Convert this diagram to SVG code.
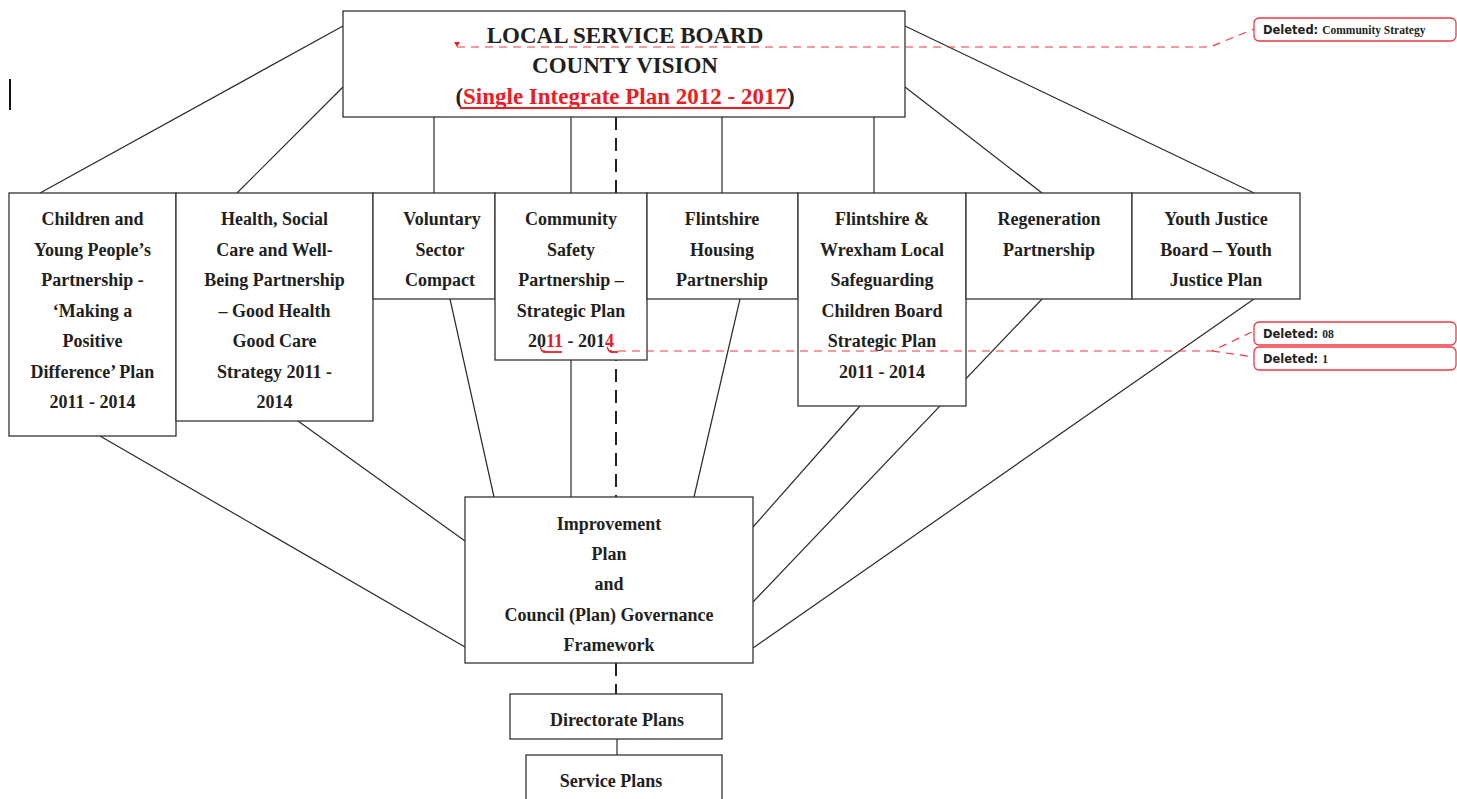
<svg xmlns="http://www.w3.org/2000/svg" width="1457" height="799" viewBox="0 0 1457 799">
<style>
.box{fill:#fff;stroke:#333;stroke-width:1.3}
.ln{stroke:#2a2a2a;stroke-width:1.2;fill:none}
.dash{stroke:#222;stroke-width:2;stroke-dasharray:13 8;fill:none}
.t{font-family:"Liberation Serif","Times New Roman",serif;font-weight:bold;font-size:18px;fill:#231f20;text-anchor:middle}
.title{font-size:23px}
.red{fill:#ed1c24}
.rd{stroke:#ee3a43;stroke-width:1.2;stroke-dasharray:8 6;fill:none}
.bal{fill:#fff;stroke:#ee3a43;stroke-width:1.3}
.bt{font-family:"DejaVu Sans",Verdana,sans-serif;font-weight:bold;font-size:11.5px;fill:#231f20}
.bs{font-family:"Liberation Serif","Times New Roman",serif;font-weight:bold;font-size:11.5px;fill:#231f20}
</style>
<rect width="1457" height="799" fill="#fff"/>
<g id="connectors">
<line class="dash" x1="616" y1="117" x2="616" y2="694"/>
<line class="ln" x1="343" y1="26" x2="40" y2="193"/>
<line class="ln" x1="343" y1="87" x2="237" y2="193"/>
<line class="ln" x1="905" y1="26" x2="1254" y2="193"/>
<line class="ln" x1="905" y1="87" x2="1042" y2="193"/>
<line class="ln" x1="434" y1="117" x2="434" y2="193"/>
<line class="ln" x1="571" y1="117" x2="571" y2="193"/>
<line class="ln" x1="722" y1="117" x2="722" y2="193"/>
<line class="ln" x1="874" y1="117" x2="874" y2="193"/>
<line class="ln" x1="100" y1="436" x2="465" y2="647"/>
<line class="ln" x1="298" y1="421" x2="465" y2="541"/>
<line class="ln" x1="450" y1="299" x2="494" y2="497"/>
<line class="ln" x1="571" y1="360" x2="571" y2="497"/>
<line class="ln" x1="740" y1="299" x2="694" y2="497"/>
<line class="ln" x1="860" y1="406" x2="753" y2="527"/>
<line class="ln" x1="1042" y1="299" x2="753" y2="602"/>
<line class="ln" x1="1254" y1="299" x2="753" y2="648"/>
<line class="ln" x1="617" y1="739" x2="617" y2="755"/>
</g>
<g id="lsb">
<rect class="box" x="343" y="11" width="562" height="106"/>
<text class="t title" x="625" y="43">LOCAL SERVICE BOARD</text>
<text class="t title" x="625" y="73">COUNTY VISION</text>
<text class="t title" x="625" y="104">(<tspan class="red">Single Integrate Plan 2012 - 2017</tspan>)</text>
<line x1="460" y1="108" x2="790" y2="108" stroke="#ed1c24" stroke-width="2"/>
</g>
<g id="cyp">
<rect class="box" x="9" y="193" width="167" height="243"/>
<text class="t" x="92.5" y="225">Children and</text>
<text class="t" x="92.5" y="255.5">Young People’s</text>
<text class="t" x="92.5" y="286">Partnership -</text>
<text class="t" x="92.5" y="316.5">‘Making a</text>
<text class="t" x="92.5" y="347">Positive</text>
<text class="t" x="92.5" y="377.5">Difference’ Plan</text>
<text class="t" x="92.5" y="408">2011 - 2014</text>
</g>
<g id="health">
<rect class="box" x="176" y="193" width="197" height="228"/>
<text class="t" x="274.5" y="225">Health, Social</text>
<text class="t" x="274.5" y="255.5">Care and Well-</text>
<text class="t" x="274.5" y="286">Being Partnership</text>
<text class="t" x="274.5" y="316.5">– Good Health</text>
<text class="t" x="274.5" y="347">Good Care</text>
<text class="t" x="274.5" y="377.5">Strategy 2011 -</text>
<text class="t" x="274.5" y="408">2014</text>
</g>
<g id="voluntary">
<rect class="box" x="373" y="193" width="122" height="106"/>
<text class="t" x="442" y="225">Voluntary</text>
<text class="t" x="440" y="255.5">Sector</text>
<text class="t" x="440" y="286">Compact</text>
</g>
<g id="community">
<rect class="box" x="495" y="193" width="152" height="167"/>
<text class="t" x="571" y="225">Community</text>
<text class="t" x="571" y="255.5">Safety</text>
<text class="t" x="571" y="286">Partnership –</text>
<text class="t" x="571" y="316.5">Strategic Plan</text>
<text class="t" x="571" y="347">20<tspan class="red">11</tspan> - 201<tspan class="red">4</tspan></text>
<line x1="543" y1="352" x2="562" y2="352" stroke="#ed1c24" stroke-width="1.8"/>
<line x1="610" y1="352" x2="618" y2="352" stroke="#ed1c24" stroke-width="1.8"/>
</g>
<g id="housing">
<rect class="box" x="647" y="193" width="151" height="106"/>
<text class="t" x="722" y="225">Flintshire</text>
<text class="t" x="722" y="255.5">Housing</text>
<text class="t" x="722" y="286">Partnership</text>
</g>
<g id="safeguarding">
<rect class="box" x="798" y="193" width="168" height="213"/>
<text class="t" x="882" y="225">Flintshire &amp;</text>
<text class="t" x="882" y="255.5">Wrexham Local</text>
<text class="t" x="882" y="286">Safeguarding</text>
<text class="t" x="882" y="316.5">Children Board</text>
<text class="t" x="882" y="347">Strategic Plan</text>
<text class="t" x="882" y="377.5">2011 - 2014</text>
</g>
<g id="regeneration">
<rect class="box" x="966" y="193" width="166" height="106"/>
<text class="t" x="1049" y="225">Regeneration</text>
<text class="t" x="1049" y="255.5">Partnership</text>
</g>
<g id="youth">
<rect class="box" x="1132" y="193" width="168" height="106"/>
<text class="t" x="1216" y="225">Youth Justice</text>
<text class="t" x="1216" y="255.5">Board – Youth</text>
<text class="t" x="1216" y="286">Justice Plan</text>
</g>
<g id="improvement">
<rect class="box" x="465" y="497" width="288" height="166"/>
<text class="t" x="609" y="530">Improvement</text>
<text class="t" x="609" y="560">Plan</text>
<text class="t" x="609" y="590">and</text>
<text class="t" x="609" y="620.5">Council (Plan) Governance</text>
<text class="t" x="609" y="651">Framework</text>
</g>
<g id="directorate">
<rect class="box" x="510" y="694" width="212" height="45"/>
<text class="t" x="617" y="726">Directorate Plans</text>
</g>
<g id="service">
<rect class="box" x="526" y="755" width="196" height="50"/>
<text class="t" x="611" y="787">Service Plans</text>
</g>
<g id="annotations">
<line x1="10" y1="79" x2="10" y2="110" stroke="#111" stroke-width="2"/>
<polygon points="454,42 460,42 457,47" fill="#ed1c24"/>
<polyline class="rd" points="457,47 1210,47 1254,29"/>
<rect class="bal" x="1254" y="18" width="202" height="23" rx="5"/>
<text x="1263" y="34"><tspan class="bt">Deleted: </tspan><tspan class="bs">Community Strategy</tspan></text>
<polyline points="540,347 542,351 545,351" stroke="#ed1c24" stroke-width="1.3" fill="none"/>
<polyline points="607,347 609,351 612,351" stroke="#ed1c24" stroke-width="1.3" fill="none"/>
<polyline class="rd" points="618,351 1212,351 1254,331"/>
<polyline class="rd" points="1212,351 1254,357"/>
<rect class="bal" x="1254" y="322" width="202" height="23" rx="5"/>
<text x="1263" y="338"><tspan class="bt">Deleted: </tspan><tspan class="bs">08</tspan></text>
<rect class="bal" x="1254" y="347" width="202" height="23" rx="5"/>
<text x="1263" y="363"><tspan class="bt">Deleted: </tspan><tspan class="bs">1</tspan></text>
</g>
</svg>
